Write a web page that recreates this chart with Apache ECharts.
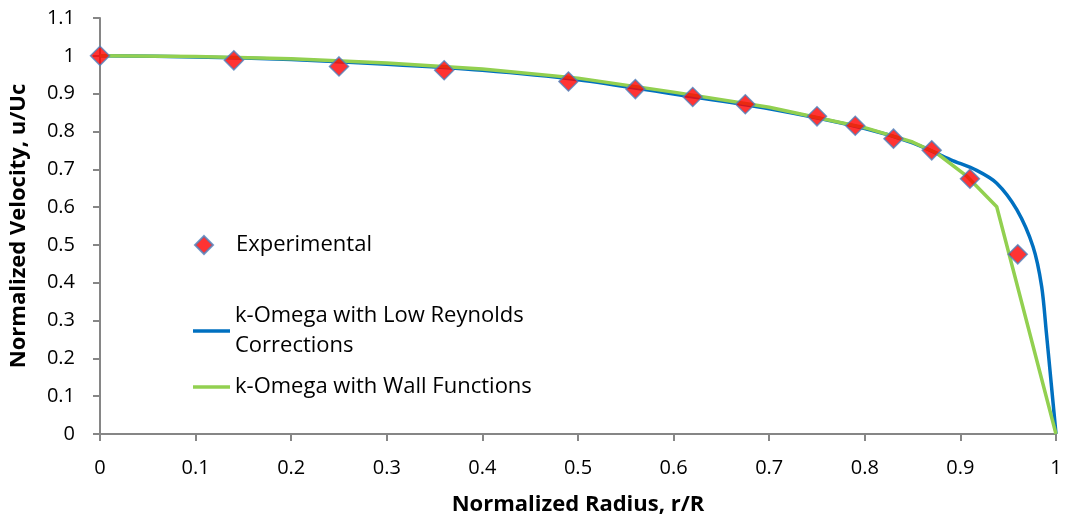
<!DOCTYPE html>
<html><head><meta charset="utf-8">
<script src="https://cdn.jsdelivr.net/npm/echarts@6/dist/echarts.min.js"></script>
<style>html,body{margin:0;padding:0;background:#fff}#c{width:1065px;height:525px}</style>
</head><body><div id="c"></div>
<script>
const expR = [0, 0.14, 0.25, 0.36, 0.49, 0.56, 0.62, 0.675, 0.75, 0.79, 0.83, 0.87, 0.91, 0.96];
const expU = [1.0, 0.988, 0.972, 0.962, 0.932, 0.912, 0.891, 0.872, 0.840, 0.815, 0.781, 0.750, 0.675, 0.475];
const lowReR = [0, 0.1, 0.2, 0.3, 0.4, 0.5, 0.6, 0.7, 0.8, 0.85, 0.89, 0.917, 0.938, 0.959, 0.976, 0.985, 0.99, 0.995, 1.0];
const lowReU = [1.0, 0.997, 0.99, 0.978, 0.962, 0.937, 0.899, 0.86, 0.808, 0.77, 0.725, 0.697, 0.663, 0.593, 0.495, 0.39, 0.266, 0.134, 0.0];
const wallR = [0, 0.1, 0.2, 0.3, 0.4, 0.5, 0.6, 0.7, 0.8, 0.85, 0.875, 0.907, 0.938, 1.0];
const wallU = [1.0, 0.998, 0.992, 0.981, 0.965, 0.941, 0.904, 0.864, 0.81, 0.772, 0.743, 0.681, 0.601, 0.0];
const xTicks = [0, 0.1, 0.2, 0.3, 0.4, 0.5, 0.6, 0.7, 0.8, 0.9, 1];
const yTicks = [0, 0.1, 0.2, 0.3, 0.4, 0.5, 0.6, 0.7, 0.8, 0.9, 1, 1.1];

const FONT = 'Open Sans';
const zip = (a, b) => a.map((v, i) => [v, b[i]]);
const chart = echarts.init(document.getElementById('c'), null, {renderer: 'canvas'});
const axisCommon = {
  axisLine: {show: true, lineStyle: {color: '#868686', width: 2}},
  axisTick: {show: true, inside: false, length: 7, lineStyle: {color: '#868686', width: 2}},
  splitLine: {show: false},
  nameTextStyle: {fontFamily: FONT, fontWeight: 'bold', fontSize: 22, color: '#000'}
};
const legendText = {fontFamily: FONT, fontSize: 22, color: '#000', lineHeight: 30};
chart.setOption({
  animation: false,
  backgroundColor: '#fff',
  grid: {left: 100, right: 9, top: 18, bottom: 91, containLabel: false, outerBoundsMode: 'none'},
  xAxis: Object.assign({}, axisCommon, {
    type: 'value', min: 0, max: 1, interval: 0.1,
    name: 'Normalized Radius, r/R', nameLocation: 'middle', nameGap: 60,
    axisLabel: {fontFamily: FONT, fontSize: 20, color: '#000', margin: 24,
      formatter: v => { const t = xTicks.find(x => Math.abs(x - v) < 1e-9); return t === undefined ? '' : String(t); }}
  }),
  yAxis: Object.assign({}, axisCommon, {
    type: 'value', min: 0, max: 1.1, interval: 0.1,
    name: 'Normalized Velocity, u/Uc', nameLocation: 'middle', nameGap: 70, nameRotate: 90,
    axisLabel: {fontFamily: FONT, fontSize: 20, color: '#000', margin: 25,
      formatter: v => { const t = yTicks.find(x => Math.abs(x - v) < 1e-9); return t === undefined ? '' : String(t); }}
  }),
  legend: [
    {data: [{name: 'Experimental', icon: 'diamond'}], left: 194, top: 230, orient: 'vertical', padding: 0,
     itemWidth: 18, itemHeight: 18, itemGap: 5, textStyle: Object.assign({}, legendText, {padding: [0, 0, 0, 18]}), selectedMode: false},
    {data: [{name: 'k-Omega with Low Reynolds Corrections', icon: 'rect'}], left: 193, top: 286, orient: 'vertical', padding: 0,
     itemWidth: 37, itemHeight: 3.5, textStyle: Object.assign({}, legendText, {padding: [30, 0, 0, 0]}),
     formatter: () => 'k-Omega with Low Reynolds\nCorrections', selectedMode: false},
    {data: [{name: 'k-Omega with Wall Functions', icon: 'rect'}], left: 193, top: 372, orient: 'vertical', padding: 0,
     itemWidth: 37, itemHeight: 3.5, textStyle: legendText, selectedMode: false}
  ],
  series: [
    {name: 'k-Omega with Low Reynolds Corrections', type: 'line', data: zip(lowReR, lowReU), smooth: 0.3,
     showSymbol: false, symbol: 'none', lineStyle: {color: '#0070C0', width: 3.5}, itemStyle: {color: '#0070C0'}, z: 2},
    {name: 'k-Omega with Wall Functions', type: 'line', data: zip(wallR, wallU), smooth: false,
     showSymbol: false, symbol: 'none', lineStyle: {color: '#92D050', width: 3.5}, itemStyle: {color: '#92D050'}, z: 3},
    {name: 'Experimental', type: 'scatter', data: zip(expR, expU), symbol: 'diamond', symbolSize: 19,
     itemStyle: {color: '#FF0000', borderColor: '#4F81BD', borderWidth: 1.5}, z: 5}
  ]
});
</script></body></html>
